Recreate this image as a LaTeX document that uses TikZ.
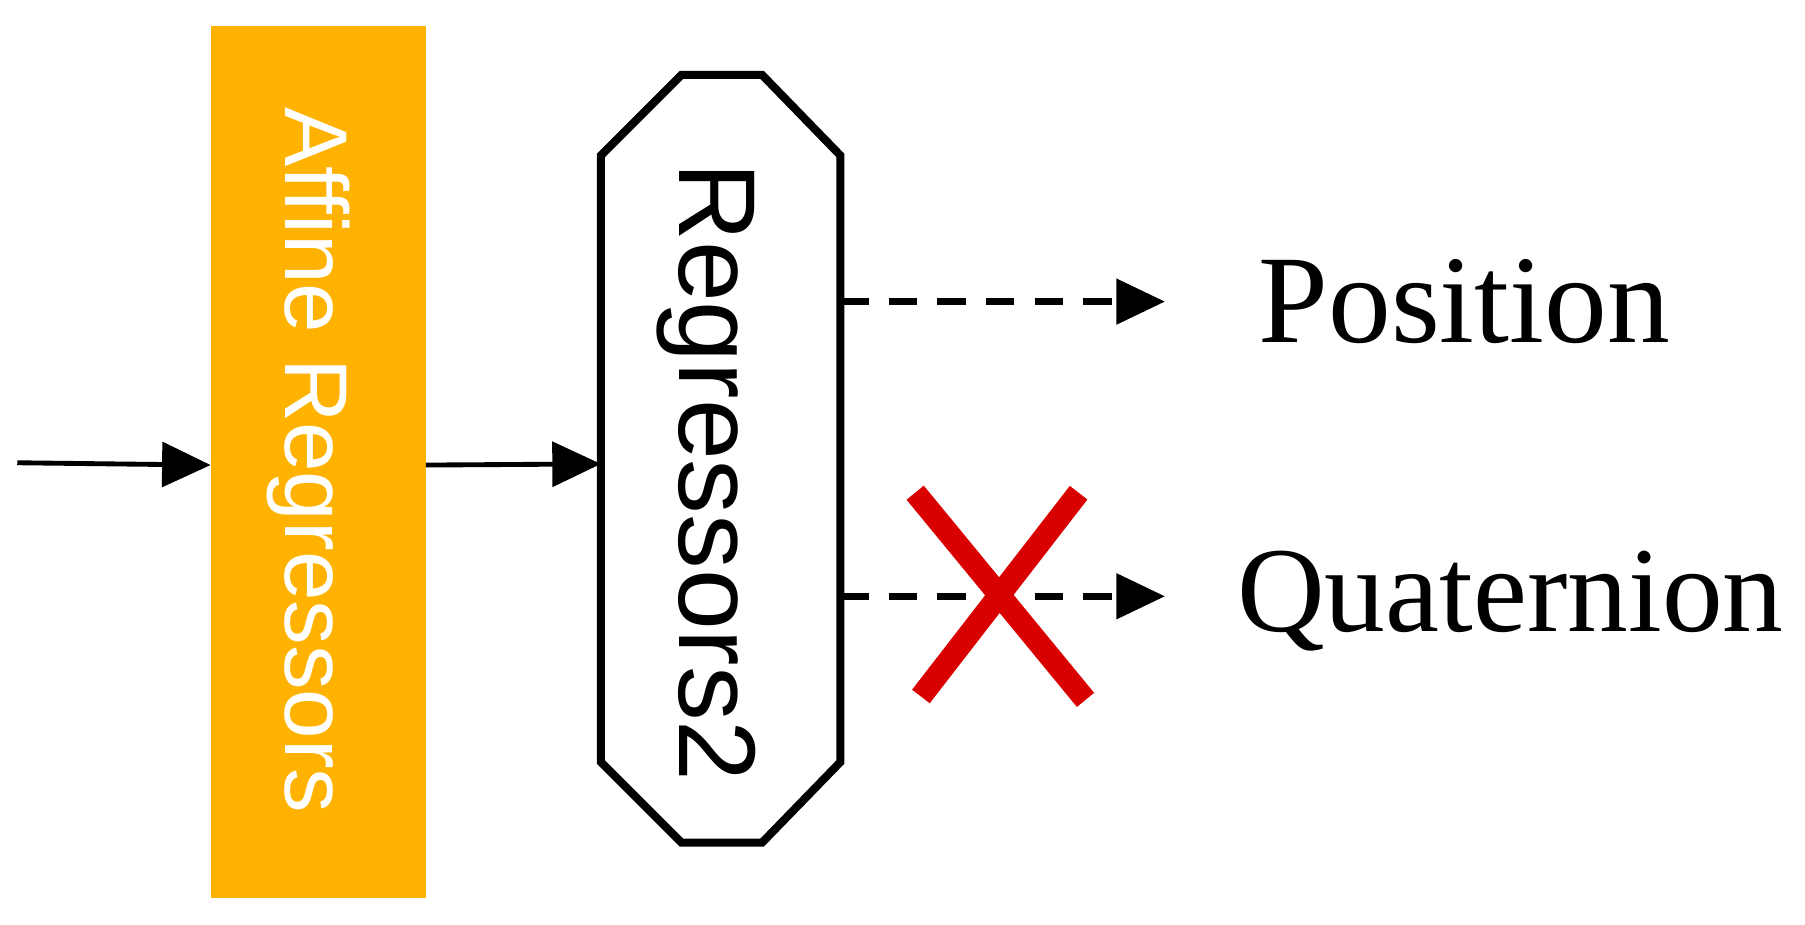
\documentclass[tikz,border=0pt]{standalone}
\usepackage{fontspec}
\setmainfont{Liberation Serif}
\newfontfamily\sansf{Liberation Sans}
\usetikzlibrary{arrows.meta}
\definecolor{orng}{HTML}{FFB300}
\begin{document}
\begin{tikzpicture}[x=0.01cm,y=-0.01cm,
  arr/.style={-{Triangle[length=12pt,width=11pt]},line width=1.2pt},
  darr/.style={-{Triangle[length=12pt,width=11pt]},line width=1.6pt,dash pattern=on 7pt off 5pt},
  lbl/.style={anchor=center}]
\useasboundingbox (0,0) rectangle (1568,803);
\fill[orng] (183,23) rectangle (370,780);
\node[font=\sansf\fontsize{22}{24}\selectfont,text=white,rotate=-90] (aff) at (268,400) {Affine Regressors};
\coordinate (affL) at (183,404);
\coordinate (affR) at (370,404);
\draw[line width=2pt,line join=miter] (592,65) -- (662,65) -- (730,135) -- (730,662) -- (662,732) -- (592,732) -- (522,662) -- (522,135) -- cycle;
\coordinate (octL) at (522,403);
\coordinate (octP) at (730,262);
\coordinate (octQ) at (730,518);
\node[font=\sansf\fontsize{27}{29}\selectfont,rotate=-90] (reg) at (614,410) {Regressors2};
\coordinate (in) at (15,402);
\draw[arr] (in) -- (affL);
\draw[arr] (affR) -- (octL);
\coordinate (pe) at (1012,262);
\coordinate (qe) at (1012,518);
\draw[darr] (octP) -- (pe);
\draw[darr] (octQ) -- (qe);
\node[lbl,font=\fontsize{31}{33}\selectfont] (pos) at (1272,262) {Position};
\node[lbl,font=\fontsize{30}{32}\selectfont] (quat) at (1312,522) {Quaternion};
\draw[red!85!black,line width=5.5pt] (795,428) -- (943,608) (937,428) -- (800,605);
\end{tikzpicture}
\end{document}
